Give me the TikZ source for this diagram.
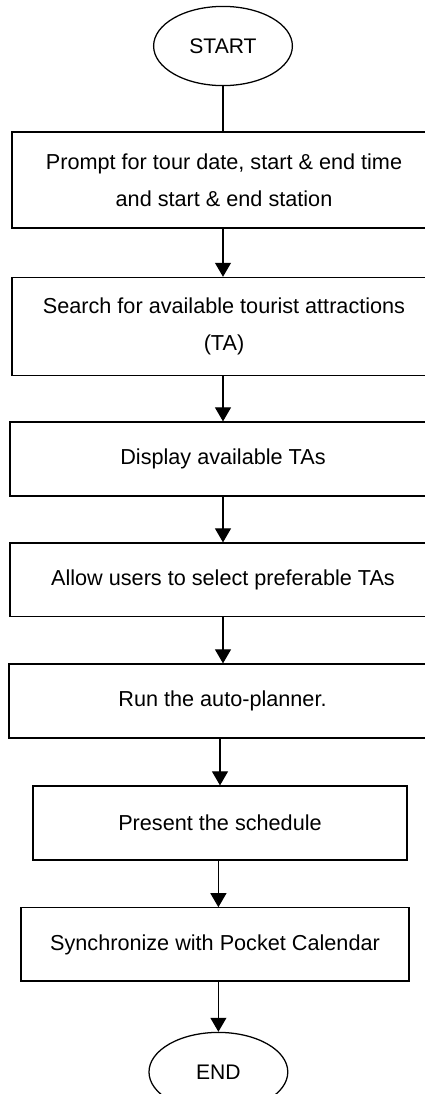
\documentclass[tikz,border=0pt]{standalone}
\usepackage{fontspec}
\setmainfont{Liberation Sans}
\usetikzlibrary{arrows.meta, shapes.geometric}

\begin{document}
\begin{tikzpicture}[
	process/.style={draw, rectangle, line width=0.9pt, align=center, inner sep=0pt, font=\fontsize{15.4}{26}\selectfont},
	terminal/.style={draw, ellipse, line width=0.9pt, inner sep=0pt, minimum width=3.47cm, minimum height=1.98cm, font=\fontsize{15}{18}\selectfont},
	>={Triangle[length=0.35cm, width=0.4cm]}]
				\useasboundingbox (0, 0) rectangle (10.625, -27.35);
				\node[terminal] (S)at(5.575, -1.15) {START};
				\node[process, minimum width=10.6cm, minimum height=2.4cm] (P1)at(5.6, -4.5) {Prompt for tour date, start \& end time\\and start \& end station};
				\node[process, minimum width=10.6cm, minimum height=2.45cm] (P2)at(5.6, -8.16) {Search for available tourist attractions\\(TA)};
				\node[process, minimum width=10.65cm, minimum height=1.85cm] (P3)at(5.575, -11.475) {Display available TAs};
				\node[process, minimum width=10.65cm, minimum height=1.83cm] (P4)at(5.575, -14.49) {Allow users to select preferable TAs};
				\node[process, minimum width=10.675cm, minimum height=1.85cm] (P5)at(5.5625, -17.525) {Run the auto-planner.};
				\node[process, minimum width=9.35cm, minimum height=1.85cm] (P6)at(5.5, -20.575) {Present the schedule};
				\node[process, minimum width=9.7cm, minimum height=1.83cm] (P7)at(5.375, -23.61) {Synchronize with Pocket Calendar};
				\node[terminal] (E)at(5.46, -26.8) {END};
				\draw[line width=0.8pt] (S.south) -- (S.south |- P1.north);
				\draw[->, line width=0.8pt] (P1.south -| S) -- (P2.north -| S);
				\draw[->, line width=0.8pt] (P2.south -| S) -- (P3.north -| S);
				\draw[->, line width=0.8pt] (P3.south -| S) -- (P4.north -| S);
				\draw[->, line width=0.8pt] (P4.south -| S) -- (P5.north -| S);
				\draw[->, line width=0.8pt] (P5.south -| P6) -- (P6.north);
				\draw[->, line width=0.8pt] (P6.south -| E) -- (P7.north -| E);
				\draw[->, line width=0.8pt] (P7.south -| E) -- (E.north);
			\end{tikzpicture}
\end{document}
